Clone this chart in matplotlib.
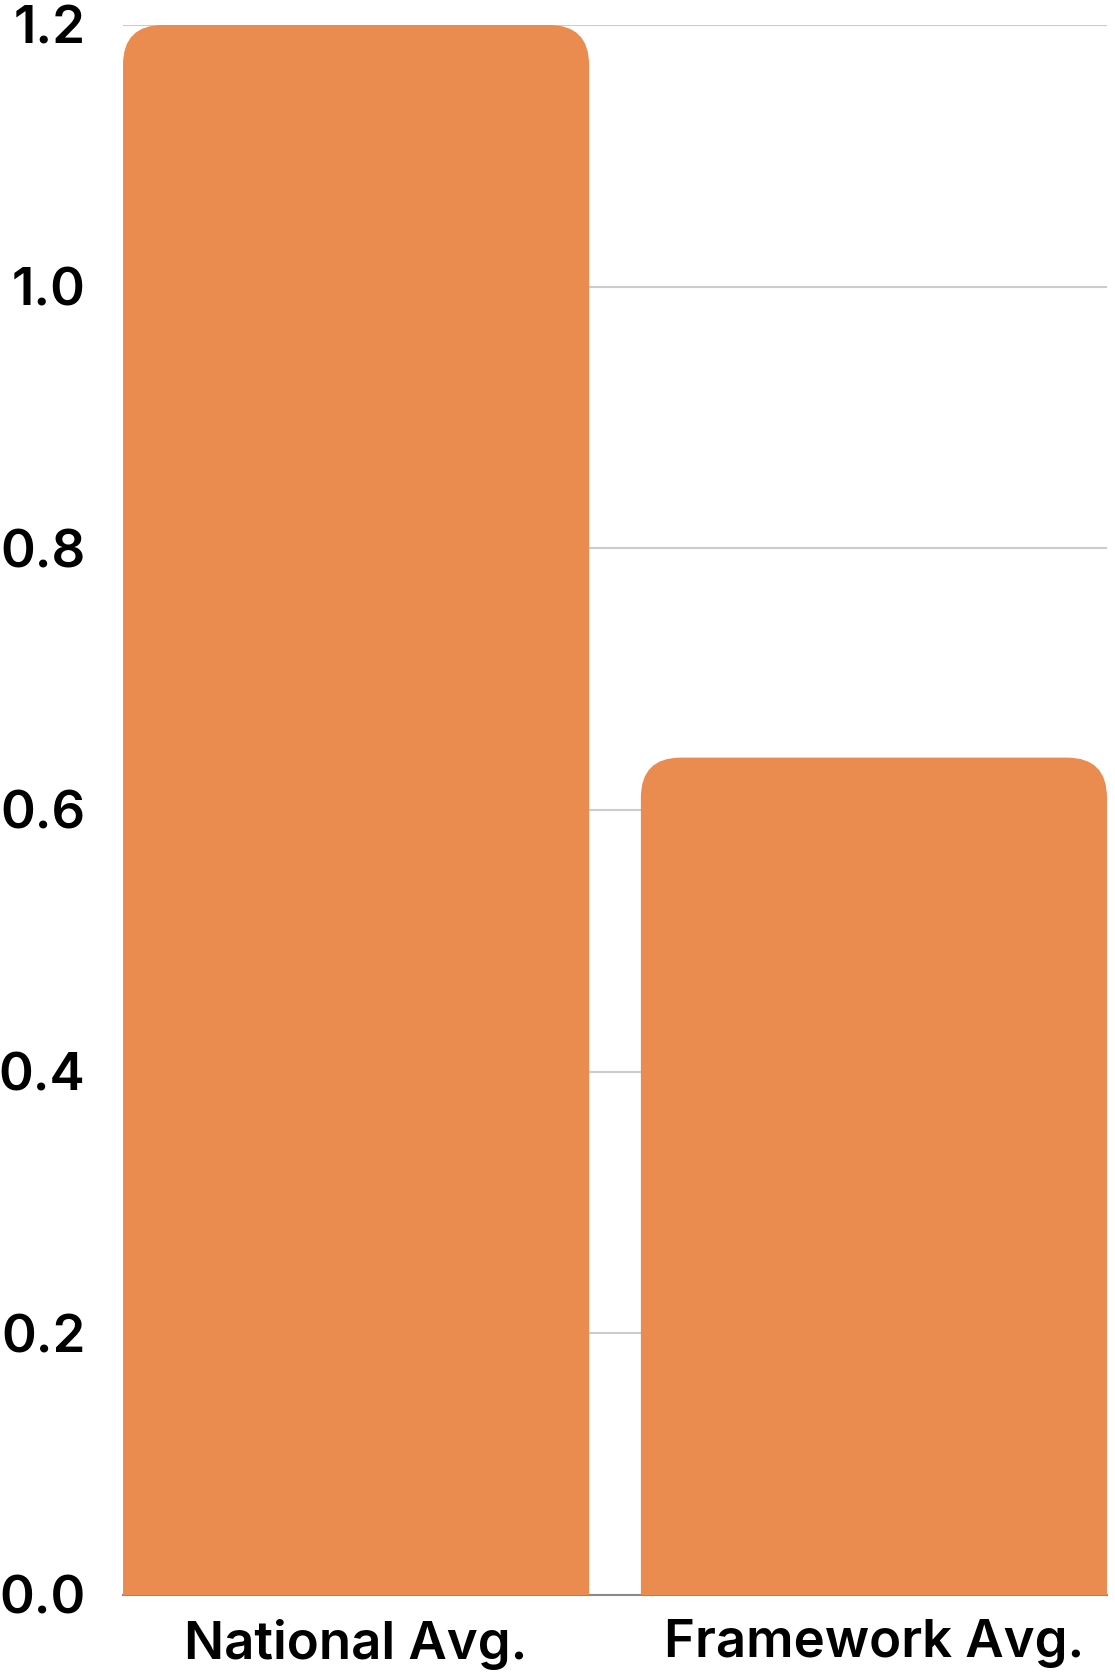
import matplotlib
matplotlib.use('Agg')
import matplotlib.pyplot as plt
from matplotlib.patches import FancyBboxPatch

categories = ['National Avg.', 'Framework Avg.']
values = [1.2, 0.64]
y_ticks = [0.0, 0.2, 0.4, 0.6, 0.8, 1.0, 1.2]

bar_color = '#EA8C4F'

plt.rcParams['font.family'] = ['Inter', 'DejaVu Sans']

fig = plt.figure(figsize=(11.15, 16.75), dpi=100)
ax = fig.add_axes([0.1103, 0.0478, 0.8825, 0.9373])

bars = ax.bar(range(len(categories)), values, width=0.9, color=bar_color, zorder=2)
ax.set_xlim(-0.45, len(categories) - 0.55)
ax.set_ylim(0, 1.2)

# rounded top corners: swap each bar for a rounded box whose bottom corners sit below the axis
x_per_px = 1 / ax.transData.get_matrix()[0, 0]
y_per_px = 1 / ax.transData.get_matrix()[1, 1]
radius_px = 40
r_x = radius_px * x_per_px
aspect = y_per_px / x_per_px
for b in bars:
    x0, w, h = b.get_x(), b.get_width(), b.get_height()
    r_y = r_x * aspect
    patch = FancyBboxPatch((x0, -r_y), w, h + r_y,
                           boxstyle=f'round,pad=0,rounding_size={r_x}',
                           mutation_aspect=aspect,
                           facecolor=bar_color, edgecolor='none', zorder=2)
    ax.add_patch(patch)
    b.remove()

ax.set_yticks(y_ticks)
ax.set_yticklabels([f'{t:.1f}' for t in y_ticks], fontsize=38, fontweight='semibold')
ax.set_xticks(range(len(categories)))
ax.set_xticklabels(categories, fontsize=38, fontweight='semibold')
ax.tick_params(axis='y', length=0, pad=27)
ax.tick_params(axis='x', length=0, pad=17)

ax.grid(axis='y', color='#cccccc', linewidth=1.5, zorder=0)
ax.set_axisbelow(True)
ax.axhline(0, color='#8a8a8a', linewidth=1.5, zorder=1, clip_on=False)
for s in ax.spines.values():
    s.set_visible(False)

fig.savefig('out.png', dpi=100, facecolor='white')
